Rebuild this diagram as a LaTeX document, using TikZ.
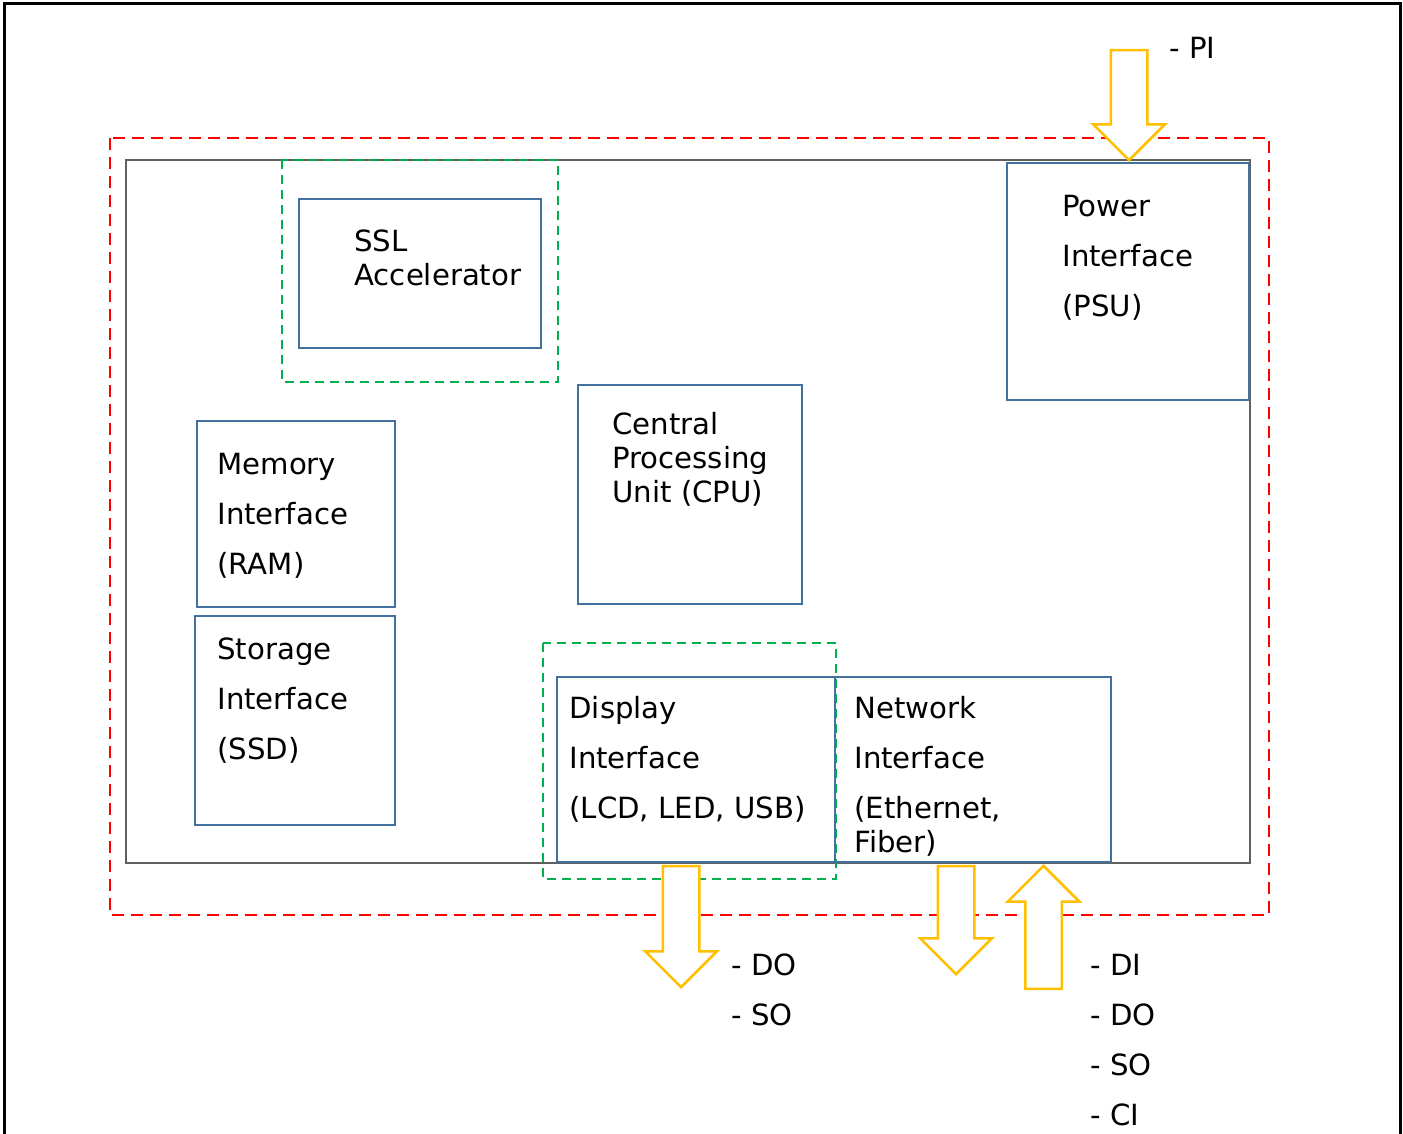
\documentclass[tikz,border=0pt]{standalone}
\usepackage{fontspec}
\setmainfont{DejaVu Sans}
\usetikzlibrary{shapes.arrows}
\definecolor{boxblue}{RGB}{65,113,156}
\definecolor{arrowyellow}{RGB}{255,192,0}
\definecolor{zonered}{RGB}{255,0,0}
\definecolor{zonegreen}{RGB}{0,176,80}
\definecolor{boardgray}{RGB}{96,96,96}

\begin{document}
\begin{tikzpicture}[line join=miter,x=0.5pt,y=-0.5pt,
  every node/.style={font=\fontsize{14.6}{17}\selectfont},
  unit/.style={draw=boxblue,line width=1.1pt,inner sep=0pt},
  txt/.style={anchor=west,align=left,inner sep=0pt},
  redzone/.style={draw=zonered,line width=1pt,dash pattern=on 6pt off 3.5pt},
  greenzone/.style={draw=zonegreen,line width=1pt,dash pattern=on 4.5pt off 3pt},
  flow/.style={single arrow,draw=arrowyellow,fill=white,line width=1.25pt,anchor=tip,
    inner xsep=0pt,inner ysep=8.5pt,single arrow head extend=8.75pt}]
\useasboundingbox (0,0) rectangle (1403,1134);
\draw[line width=1.5pt] (4,1140) -- (4,4) -- (1400,4) -- (1400,1140);
% zones and board
\draw[redzone] (110,138) rectangle (1269,915);
\draw[draw=boardgray,line width=1.25pt] (126,160) rectangle (1250,863);
\draw[greenzone] (282,160) rectangle (558,382);
\draw[greenzone] (543,643) rectangle (836,879);
% units
\node[unit,minimum width=121pt,minimum height=74.5pt] (ssl) at (420,273.5) {};
\node[txt] at (354,257.5) {SSL\\Accelerator};
\node[unit,minimum width=112pt,minimum height=109.5pt] (cpu) at (690,494.5) {};
\node[txt] at (612,459.5) {Central\\Processing\\Unit (CPU)};
\node[unit,minimum width=121pt,minimum height=118.5pt] (psu) at (1128,281.5) {};
\node[txt] at (1062,258) {Power\\[8pt]Interface\\[8pt](PSU)};
\node[unit,minimum width=99pt,minimum height=93pt] (ram) at (296,514) {};
\node[txt] at (217,516) {Memory\\[8pt]Interface\\[8pt](RAM)};
\node[unit,minimum width=100pt,minimum height=104.5pt] (ssd) at (295,720.5) {};
\node[txt] at (217,701) {Storage\\[8pt]Interface\\[8pt](SSD)};
\node[unit,minimum width=139pt,minimum height=92.5pt] (disp) at (696,769.5) {};
\node[txt] at (569,759.5) {Display\\[8pt]Interface\\[8pt](LCD, LED, USB)};
\node[unit,minimum width=138pt,minimum height=92.5pt] (nic) at (973,769.5) {};
\node[txt] at (854,776) {Network\\[8pt]Interface\\[8pt](Ethernet,\\Fiber)};
% flows
\node[flow,minimum height=55pt,rotate=-90] (piflow) at (1129,162) {};
\node[txt] (pilbl) at (1169,48) {- PI};
\node[flow,minimum height=60.5pt,rotate=-90] (dispflow) at (681,989) {};
\node[txt] (displbl) at (731,990) {- DO\\[8pt]- SO};
\node[flow,minimum height=54pt,rotate=-90] (nicout) at (956,976) {};
\node[flow,minimum height=61.5pt,rotate=90] (nicin) at (1043.5,864) {};
\node[txt] (niclbl) at (1090,1040) {- DI\\[8pt]- DO\\[8pt]- SO\\[8pt]- CI};
\end{tikzpicture}
\end{document}
